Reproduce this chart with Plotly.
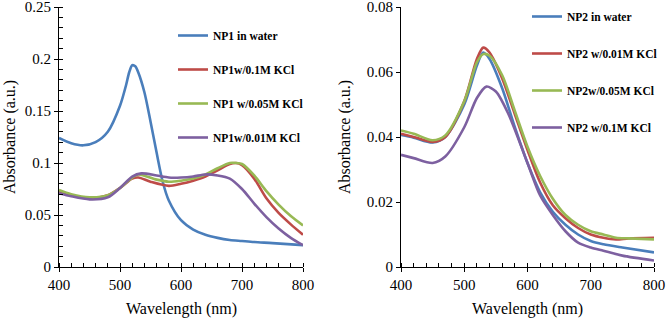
import plotly.graph_objects as go

# ---------- Left panel (NP1) ----------
np1_water_x = [400, 420, 440, 460, 480, 500, 510, 515, 520, 525, 530, 540, 550, 560, 570, 580, 600, 620, 640, 660, 680, 700, 720, 750, 800]
np1_water_y = [0.124, 0.119, 0.117, 0.120, 0.130, 0.155, 0.175, 0.187, 0.194, 0.193, 0.187, 0.168, 0.140, 0.110, 0.082, 0.064, 0.045, 0.036, 0.031, 0.028, 0.026, 0.025, 0.024, 0.023, 0.021]

np1_01_x = [400, 420, 450, 480, 500, 520, 530, 550, 580, 600, 620, 640, 660, 680, 690, 700, 720, 740, 760, 780, 800]
np1_01_y = [0.073, 0.069, 0.066, 0.069, 0.076, 0.085, 0.086, 0.082, 0.078, 0.080, 0.083, 0.087, 0.093, 0.099, 0.100, 0.098, 0.085, 0.066, 0.052, 0.041, 0.031]

np1_005_x = [400, 420, 450, 480, 500, 520, 530, 560, 580, 600, 620, 640, 660, 680, 690, 700, 720, 740, 760, 780, 800]
np1_005_y = [0.074, 0.070, 0.067, 0.069, 0.076, 0.086, 0.089, 0.084, 0.082, 0.083, 0.085, 0.089, 0.095, 0.100, 0.100, 0.099, 0.088, 0.073, 0.060, 0.049, 0.040]

np1_001_x = [400, 420, 450, 480, 500, 520, 535, 560, 580, 600, 620, 640, 660, 680, 700, 720, 740, 760, 780, 800]
np1_001_y = [0.071, 0.068, 0.065, 0.067, 0.076, 0.087, 0.090, 0.088, 0.086, 0.086, 0.087, 0.089, 0.088, 0.085, 0.075, 0.061, 0.048, 0.037, 0.028, 0.021]

# ---------- Right panel (NP2) ----------
np2_water_x = [400, 420, 450, 470, 500, 520, 530, 540, 560, 580, 600, 620, 640, 660, 680, 700, 720, 750, 800]
np2_water_y = [0.0406, 0.0398, 0.0383, 0.0400, 0.050, 0.062, 0.066, 0.064, 0.055, 0.043, 0.032, 0.023, 0.017, 0.013, 0.010, 0.008, 0.007, 0.006, 0.0045]

np2_001_x = [400, 420, 450, 470, 500, 520, 530, 540, 560, 580, 600, 620, 640, 660, 680, 700, 720, 740, 760, 800]
np2_001_y = [0.041, 0.040, 0.0385, 0.040, 0.051, 0.064, 0.0675, 0.066, 0.058, 0.047, 0.036, 0.026, 0.019, 0.015, 0.012, 0.010, 0.009, 0.0085, 0.0088, 0.009]

np2_005_x = [400, 420, 450, 470, 500, 520, 530, 540, 560, 580, 600, 620, 640, 660, 680, 700, 720, 740, 760, 800]
np2_005_y = [0.042, 0.041, 0.039, 0.0405, 0.051, 0.063, 0.0655, 0.065, 0.059, 0.048, 0.037, 0.028, 0.021, 0.016, 0.013, 0.011, 0.010, 0.009, 0.0088, 0.0085]

np2_01_x = [400, 420, 450, 470, 500, 520, 535, 550, 570, 600, 620, 640, 660, 680, 700, 720, 750, 800]
np2_01_y = [0.0345, 0.0335, 0.032, 0.034, 0.043, 0.052, 0.0555, 0.054, 0.047, 0.032, 0.022, 0.016, 0.011, 0.0075, 0.006, 0.005, 0.0035, 0.002]

BLUE, RED, GREEN, PURPLE = "#4A7EBB", "#BE4B48", "#98B954", "#7D60A0"
SERIF = "Liberation Serif, Times New Roman, serif"

left_series = [
    ("NP1 in water", np1_water_x, np1_water_y, BLUE),
    ("NP1w/0.1M KCl", np1_01_x, np1_01_y, RED),
    ("NP1 w/0.05M KCl", np1_005_x, np1_005_y, GREEN),
    ("NP1w/0.01M KCl", np1_001_x, np1_001_y, PURPLE),
]
right_series = [
    ("NP2 in water", np2_water_x, np2_water_y, BLUE),
    ("NP2 w/0.01M KCl", np2_001_x, np2_001_y, RED),
    ("NP2w/0.05M KCl", np2_005_x, np2_005_y, GREEN),
    ("NP2 w/0.1M KCl", np2_01_x, np2_01_y, PURPLE),
]

fig = go.Figure()
for i, (name, xs, ys, c) in enumerate(left_series):
    fig.add_trace(go.Scatter(x=xs, y=ys, name=name, mode="lines",
                             line=dict(color=c, width=2.6, shape="spline", smoothing=0.8),
                             xaxis="x", yaxis="y", legend="legend", legendgroup="L%d" % i))
for i, (name, xs, ys, c) in enumerate(right_series):
    fig.add_trace(go.Scatter(x=xs, y=ys, name=name, mode="lines",
                             line=dict(color=c, width=2.6, shape="spline", smoothing=0.8),
                             xaxis="x2", yaxis="y2", legend="legend2", legendgroup="R%d" % i))

W, H = 666, 320
xd1 = [59 / W, 303 / W]
xd2 = [401 / W, 654 / W]
yd = [1 - 267 / H, 1 - 7 / H]

tickfont = dict(family=SERIF, size=15, color="black")
common = dict(showgrid=False, zeroline=False, showline=True, linecolor="black", linewidth=1,
              ticks="outside", ticklen=4, tickcolor="black", tickfont=tickfont,
              automargin=False, ticklabeloverflow="allow")
overlay = dict(showticklabels=False, showline=False, showgrid=False, zeroline=False,
               ticks="inside", ticklen=4, tickcolor="black", automargin=False)

fig.update_layout(
    width=W, height=H, margin=dict(l=0, r=0, t=0, b=0, autoexpand=False),
    paper_bgcolor="white", plot_bgcolor="white",
    xaxis=dict(domain=xd1, range=[400, 800], dtick=100, anchor="y",
               minor=dict(ticks="inside", dtick=20, ticklen=4, tickcolor="black"), **common),
    yaxis=dict(domain=yd, range=[0, 0.25], dtick=0.05, anchor="x",
               minor=dict(ticks="inside", dtick=0.01, ticklen=4, tickcolor="black"), **common),
    xaxis2=dict(domain=xd2, range=[400, 800], dtick=100, anchor="y2",
                minor=dict(ticks="inside", dtick=20, ticklen=4, tickcolor="black"), **common),
    yaxis2=dict(domain=yd, range=[0, 0.08], dtick=0.02, anchor="x2", **common),
    # overlay axes giving the inner half of the crossing major ticks
    xaxis3=dict(overlaying="x", range=[400, 800], dtick=100, anchor="y", **overlay),
    yaxis3=dict(overlaying="y", range=[0, 0.25], dtick=0.05, anchor="x", side="left", **overlay),
    xaxis4=dict(overlaying="x2", range=[400, 800], dtick=100, anchor="y2", **overlay),
    yaxis4=dict(overlaying="y2", range=[0, 0.08], dtick=0.02, anchor="x2", side="left", **overlay),
    legend=dict(x=173 / W, y=1 - 21 / H, xanchor="left", yanchor="top", bgcolor="rgba(0,0,0,0)",
                font=dict(family=SERIF, size=11.5, color="black", weight="bold"),
                tracegroupgap=15, itemwidth=30),
    legend2=dict(x=527 / W, y=1 - 2 / H, xanchor="left", yanchor="top", bgcolor="rgba(0,0,0,0)",
                 font=dict(family=SERIF, size=11.5, color="black", weight="bold"),
                 tracegroupgap=18, itemwidth=30),
    annotations=[
        dict(text="Absorbance (a.u.)", x=10 / W, y=(yd[0] + yd[1]) / 2, xref="paper", yref="paper",
             xanchor="center", yanchor="middle",
             textangle=-90, showarrow=False, font=dict(family=SERIF, size=16, color="black")),
        dict(text="Absorbance (a.u.)", x=345 / W, y=(yd[0] + yd[1]) / 2, xref="paper", yref="paper",
             xanchor="center", yanchor="middle",
             textangle=-90, showarrow=False, font=dict(family=SERIF, size=16, color="black")),
        dict(text="Wavelength (nm)", x=(xd1[0] + xd1[1]) / 2, y=1 - 309 / H, xref="paper", yref="paper",
             xanchor="center", yanchor="middle",
             showarrow=False, font=dict(family=SERIF, size=16, color="black")),
        dict(text="Wavelength (nm)", x=(xd2[0] + xd2[1]) / 2, y=1 - 309 / H, xref="paper", yref="paper",
             xanchor="center", yanchor="middle",
             showarrow=False, font=dict(family=SERIF, size=16, color="black")),
    ],
)

fig.write_html("out.html", config={"displayModeBar": False},
               post_script="document.body.style.margin='0';document.body.style.overflow='hidden';")
